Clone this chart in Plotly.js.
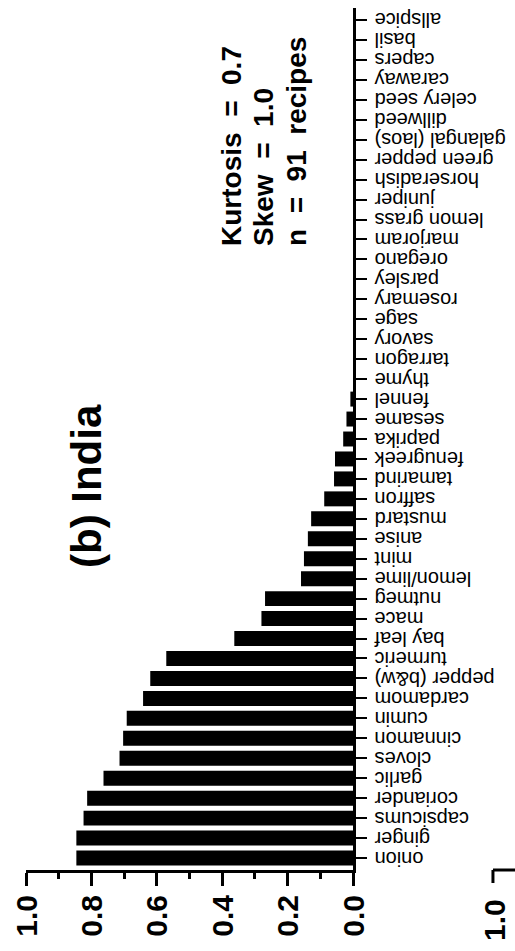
<!DOCTYPE html>
<html>
<head>
<meta charset="utf-8">
<script src="https://cdn.plot.ly/plotly-3.0.1.min.js"></script>
<style>
  html, body { margin: 0; padding: 0; background: #ffffff; overflow: hidden; }
  body { width: 515px; height: 951px; position: relative; }
  /* The figure is laid out upright (951 x 515) and turned a quarter turn
     counter-clockwise so the spice axis runs down the right-hand side. */
  #chart {
    position: absolute; left: 0; top: 0;
    width: 951px; height: 515px;
    transform-origin: 0 0;
    transform: translate(0, 951px) rotate(-90deg);
  }
</style>
</head>
<body>
<div id="chart"></div>
<script>
// Spices, in the order they are plotted along the category axis
const spices = [
  "onion", "ginger", "capsicums", "coriander", "garlic", "cloves", "cinnamon",
  "cumin", "cardamom", "pepper (b&w)", "turmeric", "bay leaf", "mace", "nutmeg",
  "lemon/lime", "mint", "anise", "mustard", "saffron", "tamarind", "fenugreek",
  "paprika", "sesame", "fennel", "thyme", "tarragon", "savory", "sage",
  "rosemary", "parsley", "oregano", "marjoram", "lemon grass", "juniper",
  "horseradish", "green pepper", "galangal (laos)", "dillweed", "celery seed",
  "caraway", "capers", "basil", "allspice"
];

// Fraction of the 91 Indian recipes that call for each spice
const recipeShare = [
  0.846, 0.846, 0.824, 0.813, 0.763, 0.714, 0.703,
  0.692, 0.642, 0.620, 0.571, 0.363, 0.280, 0.269,
  0.159, 0.150, 0.138, 0.128, 0.088, 0.058, 0.055,
  0.030, 0.020, 0.008, 0, 0, 0, 0,
  0, 0, 0, 0, 0, 0,
  0, 0, 0, 0, 0,
  0, 0, 0, 0
];

// Value axis ticks
const shareTicks = [0, 0.2, 0.4, 0.6, 0.8, 1.0];
const shareTickText = ["0.0", "0.2", "0.4", "0.6", "0.8", "1.0"];

// Summary statistics printed on the panel (double spaces kept as nbsp)
const statLines = [
  "Kurtosis&nbsp;&nbsp;=&nbsp;&nbsp;0.7",
  "Skew&nbsp;&nbsp;=&nbsp;&nbsp;1.0",
  "n&nbsp;&nbsp;=&nbsp;&nbsp;91&nbsp;&nbsp;recipes"
];
const panelTitle = "(b) India";

// Next panel's axis start, visible at the edge
const nextPanelTick = "1.0";

const FONT = "Liberation Sans, Arial, Helvetica, sans-serif";

const trace = {
  type: "bar",
  x: spices,
  y: recipeShare,
  marker: { color: "#000000", line: { width: 0 } },
  hoverinfo: "skip"
};

const statY = [0.372, 0.274, 0.174];
const annotations = statLines.map((t, i) => ({
  text: "<b>" + t + "</b>",
  xref: "paper", yref: "paper",
  x: 0.7216, y: statY[i],
  xanchor: "left", yanchor: "middle",
  showarrow: false,
  font: { family: FONT, size: 28, color: "#000000" }
}));

annotations.push({
  text: "<b>" + panelTitle + "</b>",
  xref: "paper", yref: "paper",
  x: 0.4455, y: 0.815,
  xanchor: "center", yanchor: "middle",
  showarrow: false,
  font: { family: FONT, size: 42, color: "#000000" }
});

annotations.push({
  text: "<b>" + nextPanelTick + "</b>",
  xref: "paper", yref: "paper",
  x: -0.031, y: -0.434,
  xanchor: "right", yanchor: "middle",
  showarrow: false,
  font: { family: FONT, size: 30, color: "#000000" }
});

const layout = {
  width: 951,
  height: 515,
  margin: { l: 81, r: 8, t: 26, b: 162, pad: 0 },
  paper_bgcolor: "#ffffff",
  plot_bgcolor: "#ffffff",
  showlegend: false,
  bargap: 0.25,
  font: { family: FONT, color: "#000000" },
  xaxis: {
    type: "category",
    categoryorder: "array",
    categoryarray: spices,
    tickmode: "array",
    tickvals: spices,
    ticktext: spices,
    range: [-0.6, 42.6],
    showgrid: false,
    zeroline: false,
    showline: true,
    linecolor: "#000000",
    linewidth: 2.5,
    ticks: "outside",
    ticklen: 11,
    tickwidth: 2,
    tickcolor: "#000000",
    tickangle: -90,
    tickfont: { family: FONT, size: 20, color: "#000000" },
    fixedrange: true
  },
  yaxis: {
    range: [0, 1],
    tickmode: "array",
    tickvals: shareTicks,
    ticktext: shareTickText,
    showgrid: false,
    zeroline: false,
    showline: true,
    linecolor: "#000000",
    linewidth: 3,
    ticks: "outside",
    ticklen: 13,
    tickwidth: 3,
    tickcolor: "#000000",
    ticklabelstandoff: 3,
    minor: { dtick: 0.1, tick0: 0, ticks: "outside", ticklen: 6, tickwidth: 3, tickcolor: "#000000", showgrid: false },
    tickfont: { family: FONT, size: 30, weight: "bold", color: "#000000" },
    fixedrange: true
  },
  annotations: annotations,
  shapes: [
    // axis line and top tick of the neighbouring panel
    { type: "line", xref: "paper", yref: "paper", x0: 0, x1: 0, y0: -0.428, y1: -0.52,
      line: { color: "#000000", width: 3 } },
    { type: "line", xref: "paper", yref: "paper", x0: -0.0151, x1: 0, y0: -0.428, y1: -0.428,
      line: { color: "#000000", width: 3 } }
  ]
};

Plotly.newPlot("chart", [trace], layout, { staticPlot: true, displayModeBar: false });
</script>
</body>
</html>
